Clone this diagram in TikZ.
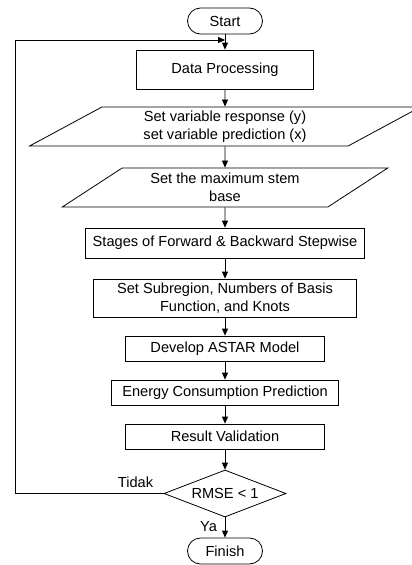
\documentclass[tikz,border=0pt]{standalone}
\usepackage{fontspec}
\setmainfont{Liberation Sans}
\usetikzlibrary{shapes.geometric,shapes.misc,arrows.meta}
\tikzset{
	terminal/.style={draw, rounded rectangle, minimum width=75pt, minimum height=26pt, inner sep=0pt},
	process/.style={draw, rectangle, inner sep=0pt, align=center},
	inout/.style={draw, trapezium, trapezium left angle=33, trapezium right angle=147, trapezium stretches=true, minimum height=39pt, inner sep=0pt, align=center},
	decision/.style={draw, diamond, aspect=2.6, minimum width=122pt, minimum height=47pt, inner sep=0pt},
	arrow/.style={-{Triangle[length=7pt,width=6pt]}}
}

\begin{document}
\begin{tikzpicture}[x=1pt, y=-1pt, line width=0.8pt, font=\fontsize{14.6}{17.5}\selectfont]
		\useasboundingbox (0,0) rectangle (412,565);
		\node[terminal] (start) at (225,21) {Start};
		\node[process, minimum width=177pt, minimum height=39pt] (dataproc) at (225,69.5) {Data Processing};
		\node[inout, minimum width=391pt] (setvar) at (225,126.5) {Set variable response (y)\\set variable prediction (x)};
		\node[inout, minimum width=326pt] (stembase) at (225,187.5) {Set the maximum stem\\base};
		\node[process, minimum width=279pt, minimum height=30pt] (stepwise) at (225,243) {Stages of Forward \& Backward Stepwise};
		\node[process, minimum width=263pt, minimum height=38pt] (subregion) at (225,298) {Set Subregion, Numbers of Basis\\Function, and Knots};
		\node[process, minimum width=199pt, minimum height=25pt] (astar) at (225,348.5) {Develop ASTAR Model};
		\node[process, minimum width=227pt, minimum height=25pt] (energy) at (225,392.5) {Energy Consumption Prediction};
		\node[process, minimum width=199pt, minimum height=25pt] (validation) at (225,436.5) {Result Validation};
		\node[decision] (rmse) at (225,493.5) {RMSE < 1};
		\node[terminal] (finish) at (225,551) {Finish};
		\node (tidak) at (135.5,482) {Tidak};
		\node (ya) at (208.5,527) {Ya};
		
		\coordinate (join) at (225,40);
		\coordinate (corner) at (15,40);
		
		\draw[arrow] (start.south) -- (dataproc.north);
		\draw[arrow] (dataproc.south) -- (setvar.north);
		\draw[arrow] (setvar.south) -- (stembase.north);
		\draw[arrow] (stembase.south) -- (stepwise.north);
		\draw[arrow] (stepwise.south) -- (subregion.north);
		\draw[arrow] (subregion.south) -- (astar.north);
		\draw[arrow] (astar.south) -- (energy.north);
		\draw[arrow] (energy.south) -- (validation.north);
		\draw[arrow] (validation.south) -- (rmse.north);
		\draw[arrow] (rmse.south) -- (finish.north);
		\draw[arrow] (rmse.west) -| (corner) -- (join);
	\end{tikzpicture}
\end{document}
